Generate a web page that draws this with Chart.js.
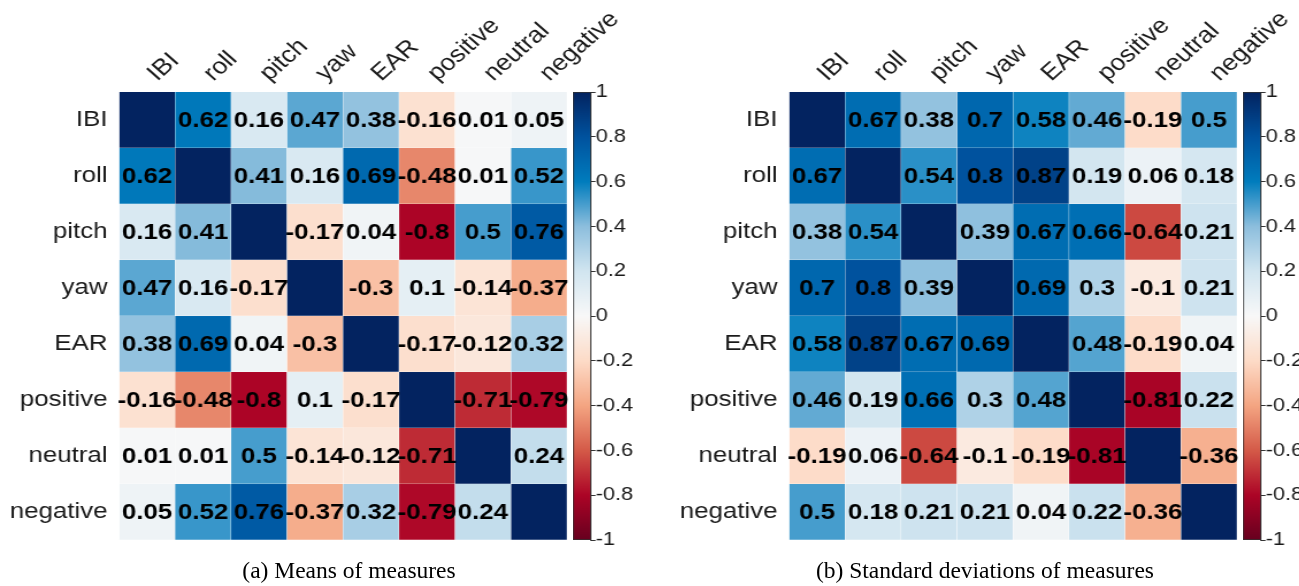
<!DOCTYPE html>
<html>
<head>
<meta charset="utf-8">
<script src="https://cdn.jsdelivr.net/npm/chart.js@4.4.1/dist/chart.umd.min.js"></script>
<style>
  body { margin: 0; background: #fff; overflow: hidden; }
  #page { position: relative; width: 1299px; height: 586px; overflow: hidden; background: #fff; }
  .wrap { position: absolute; top: 0; transform: scaleX(1.15); transform-origin: 0 0; }
  .caption { position: absolute; top: 557px; font-family: 'Liberation Serif', 'Times New Roman', serif; font-size: 23.5px; color: #000; text-align: center; white-space: nowrap; }
</style>
</head>
<body>
<div id="page">
  <div class="wrap" style="left:0px"><canvas id="heatA" width="563" height="570"></canvas></div>
  <div class="wrap" style="left:573px"><canvas id="barA" width="61" height="586"></canvas></div>
  <div class="wrap" style="left:670px"><canvas id="heatB" width="563" height="570"></canvas></div>
  <div class="wrap" style="left:1243px"><canvas id="barB" width="61" height="586"></canvas></div>
  <div class="caption" style="left:149px;width:400px">(a) Means of measures</div>
  <div class="caption" style="left:785px;width:400px">(b) Standard deviations of measures</div>
</div>

<script>
// ----------------
// - Chart data   -
// ----------------

// measures (same order for rows and columns)
const measures = ['IBI', 'roll', 'pitch', 'yaw', 'EAR', 'positive', 'neutral', 'negative'];

// (a) correlations of the means, one array per row
const meanIBI      = [1, 0.62, 0.16, 0.47, 0.38, -0.16, 0.01, 0.05];
const meanRoll     = [0.62, 1, 0.41, 0.16, 0.69, -0.48, 0.01, 0.52];
const meanPitch    = [0.16, 0.41, 1, -0.17, 0.04, -0.8, 0.5, 0.76];
const meanYaw      = [0.47, 0.16, -0.17, 1, -0.3, 0.1, -0.14, -0.37];
const meanEAR      = [0.38, 0.69, 0.04, -0.3, 1, -0.17, -0.12, 0.32];
const meanPositive = [-0.16, -0.48, -0.8, 0.1, -0.17, 1, -0.71, -0.79];
const meanNeutral  = [0.01, 0.01, 0.5, -0.14, -0.12, -0.71, 1, 0.24];
const meanNegative = [0.05, 0.52, 0.76, -0.37, 0.32, -0.79, 0.24, 1];

// (b) correlations of the standard deviations, one array per row
const sdIBI      = [1, 0.67, 0.38, 0.7, 0.58, 0.46, -0.19, 0.5];
const sdRoll     = [0.67, 1, 0.54, 0.8, 0.87, 0.19, 0.06, 0.18];
const sdPitch    = [0.38, 0.54, 1, 0.39, 0.67, 0.66, -0.64, 0.21];
const sdYaw      = [0.7, 0.8, 0.39, 1, 0.69, 0.3, -0.1, 0.21];
const sdEAR      = [0.58, 0.87, 0.67, 0.69, 1, 0.48, -0.19, 0.04];
const sdPositive = [0.46, 0.19, 0.66, 0.3, 0.48, 1, -0.81, 0.22];
const sdNeutral  = [-0.19, 0.06, -0.64, -0.1, -0.19, -0.81, 1, -0.36];
const sdNegative = [0.5, 0.18, 0.21, 0.21, 0.04, 0.22, -0.36, 1];

// colour bar ticks
const barTicks = [1, 0.8, 0.6, 0.4, 0.2, 0, -0.2, -0.4, -0.6, -0.8, -1];

const meanRows = [meanIBI, meanRoll, meanPitch, meanYaw, meanEAR, meanPositive, meanNeutral, meanNegative];
const sdRows = [sdIBI, sdRoll, sdPitch, sdYaw, sdEAR, sdPositive, sdNeutral, sdNegative];

// ----------------
// - Colour map   -
// ----------------

// red - white - blue diverging map
const cmapAt = [-1, -0.8, -0.6, -0.4, -0.2, 0, 0.2, 0.4, 0.6, 0.8, 1];
const cmapRgb = [
    [103, 0, 31], [172, 4, 38], [212, 90, 72], [244, 165, 130], [253, 219, 199],
    [248, 248, 248],
    [209, 229, 240], [140, 190, 221], [0, 124, 189], [0, 82, 158], [3, 35, 96]
];

function cellColor(v) {
    for (let k = 0; k < cmapAt.length - 1; k++) {
        if (v <= cmapAt[k + 1]) {
            const t = (v - cmapAt[k]) / (cmapAt[k + 1] - cmapAt[k]);
            const a = cmapRgb[k], b = cmapRgb[k + 1];
            const c = a.map((x, n) => Math.round(x + (b[n] - x) * t));
            return 'rgb(' + c.join(',') + ')';
        }
    }
    return 'rgb(' + cmapRgb[cmapRgb.length - 1].join(',') + ')';
}

Chart.defaults.font.family = "'Liberation Sans', Arial, sans-serif";
const labelColor = '#1a1a1a';

// writes the value in the middle of every off-diagonal cell
const cellText = {
    id: 'cellText',
    afterDatasetsDraw(chart) {
        const ctx = chart.ctx;
        ctx.save();
        ctx.font = 'bold 22.5px "Liberation Sans", Arial, sans-serif';
        ctx.fillStyle = '#000';
        ctx.textAlign = 'center';
        ctx.textBaseline = 'middle';
        chart.data.datasets.forEach((ds, j) => {
            chart.getDatasetMeta(j).data.forEach((bar, i) => {
                if (i === j) return;
                const p = bar.getCenterPoint();
                ctx.fillText(String(ds.values[i]), p.x, p.y + 1);
            });
        });
        ctx.restore();
    }
};

// ----------------
// - Heat maps    -
// ----------------

function makeHeatmap(id, rows) {
    new Chart(document.getElementById(id), {
        type: 'bar',
        data: {
            labels: measures,
            datasets: rows.map((vals, j) => ({
                label: measures[j],
                data: measures.map(() => [j, j + 1]),
                values: vals,
                backgroundColor: vals.map(cellColor),
                borderColor: 'rgba(255,255,255,0.25)',
                borderWidth: 0.5,
                grouped: false,
                barPercentage: 1,
                categoryPercentage: 1,
                yAxisID: 'yv'
            }))
        },
        options: {
            responsive: false,
            animation: false,
            layout: { padding: { left: 0, top: 0, right: 70, bottom: 30 } },
            plugins: { legend: { display: false }, tooltip: { enabled: false } },
            scales: {
                x: {
                    position: 'top',
                    grid: { display: false, drawTicks: false },
                    border: { display: false },
                    ticks: {
                        autoSkip: false, minRotation: 45, maxRotation: 45,
                        padding: 5, labelOffset: 24,
                        color: labelColor, font: { size: 23 }
                    },
                    afterFit: (s) => { s.height = 92; }
                },
                y: {
                    type: 'category',
                    labels: measures,
                    offset: true,
                    position: 'left',
                    grid: { display: false, drawTicks: false },
                    border: { display: false },
                    ticks: { padding: 10, color: labelColor, font: { size: 22.5 } },
                    afterFit: (s) => { s.width = 103.5; }
                },
                yv: { type: 'linear', min: 0, max: 8, reverse: true, display: false }
            }
        },
        plugins: [cellText]
    });
}

// ----------------
// - Colour bars  -
// ----------------

function makeColorbar(id) {
    new Chart(document.getElementById(id), {
        type: 'bar',
        data: {
            labels: [''],
            datasets: [{
                data: [[-1, 1]],
                backgroundColor: (c) => {
                    const chart = c.chart;
                    if (!chart.chartArea) return null;
                    const ys = chart.scales.y;
                    const g = chart.ctx.createLinearGradient(0, ys.getPixelForValue(-1), 0, ys.getPixelForValue(1));
                    cmapAt.forEach((v, k) => g.addColorStop((v + 1) / 2, 'rgb(' + cmapRgb[k].join(',') + ')'));
                    return g;
                },
                borderColor: '#333',
                borderWidth: 1,
                borderSkipped: false,
                barPercentage: 1,
                categoryPercentage: 1
            }]
        },
        options: {
            responsive: false,
            animation: false,
            layout: { padding: { left: 0, top: 92, right: 0, bottom: 46 } },
            plugins: { legend: { display: false }, tooltip: { enabled: false } },
            scales: {
                x: { display: false },
                y: {
                    position: 'right',
                    min: -1, max: 1,
                    afterBuildTicks: (s) => { s.ticks = barTicks.map(v => ({ value: v })); },
                    grid: { drawOnChartArea: false, drawTicks: true, tickLength: 4, color: '#333' },
                    border: { display: true, color: '#333' },
                    ticks: {
                        padding: 0, color: labelColor, font: { size: 19 },
                        callback: (v) => String(Math.round(v * 10) / 10)
                    },
                    afterFit: (s) => { s.width = 45.35; }
                }
            }
        }
    });
}

makeHeatmap('heatA', meanRows);
makeHeatmap('heatB', sdRows);
makeColorbar('barA');
makeColorbar('barB');
</script>
</body>
</html>
